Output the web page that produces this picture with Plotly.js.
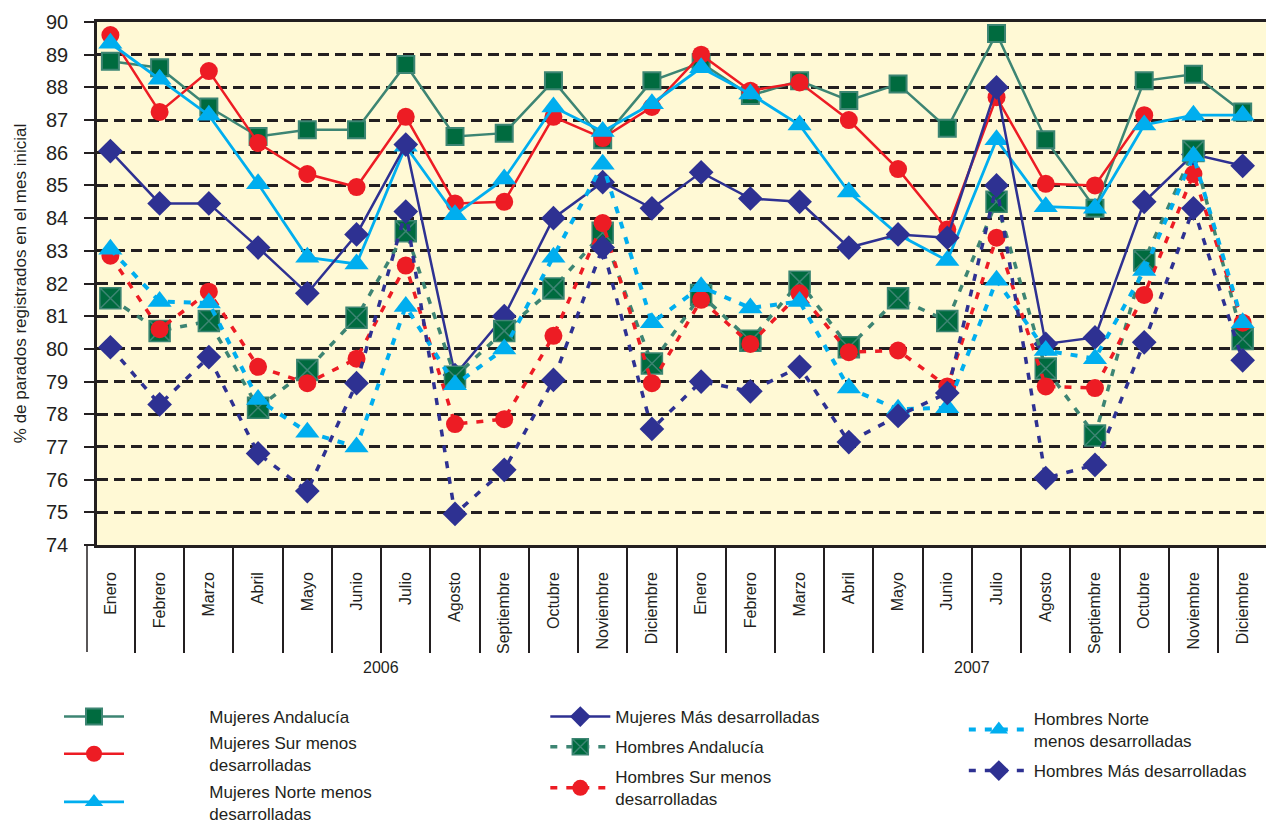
<!DOCTYPE html>
<html>
<head>
<meta charset="utf-8">
<script src="https://cdn.plot.ly/plotly-3.0.1.min.js"></script>
<style>
html,body{margin:0;padding:0;background:#ffffff;}
#chart{width:1266px;height:823px;}
</style>
</head>
<body>
<div id="chart"></div>
<script>
// ---------------- data ----------------
const years = ['2006', '2007'];
const months = ['Enero','Febrero','Marzo','Abril','Mayo','Junio','Julio','Agosto','Septiembre','Octubre','Noviembre','Diciembre'];

const mujeresAndalucia = [88.8, 88.6, 87.4, 86.5, 86.7, 86.7, 88.7, 86.5, 86.6, 88.2, 86.4, 88.2,
                          88.75, 87.75, 88.2, 87.6, 88.1, 86.75, 89.65, 86.4, 84.3, 88.2, 88.4, 87.25];
const mujeresSur = [89.6, 87.25, 88.5, 86.3, 85.35, 84.95, 87.1, 84.45, 84.5, 87.1, 86.45, 87.4,
                    89.0, 87.9, 88.15, 87.0, 85.5, 83.65, 87.7, 85.05, 85.0, 87.15, null, null];
const mujeresNorte = [89.35, 88.25, 87.15, 85.05, 82.8, 82.6, 86.2, 84.1, 85.2, 87.4, 86.65, 87.5,
                      88.6, 87.8, 86.85, 84.8, 83.5, 82.7, 86.4, 84.35, 84.3, 86.85, 87.15, 87.15];
const mujeresMas = [86.05, 84.45, 84.45, 83.1, 81.7, 83.5, 86.25, 79.2, 81.0, 84.0, 85.1, 84.3,
                    85.4, 84.6, 84.5, 83.1, 83.5, 83.4, 88.0, 80.15, 80.35, 84.5, 85.95, 85.6];
const hombresAndalucia = [81.55, 80.55, 80.85, 78.2, 79.35, 80.95, 83.6, 79.15, 80.55, 81.85, 83.55, 79.55,
                          81.65, 80.25, 82.05, 80.05, 81.55, 80.85, 84.5, 79.4, 77.35, 82.7, 86.05, 80.3];
const hombresSur = [82.85, 80.6, 81.75, 79.45, 78.95, 79.7, 82.55, 77.7, 77.85, 80.4, 83.85, 78.95,
                    81.5, 80.15, 81.7, 79.9, 79.95, 78.85, 83.4, 78.85, 78.8, 81.65, 85.35, 80.8];
const hombresNorte = [83.05, 81.45, 81.4, 78.45, 77.45, 77.0, 81.3, 78.9, 80.0, 82.8, 85.65, 80.8,
                      81.9, 81.25, 81.45, 78.8, 78.15, 78.2, 82.1, 79.95, 79.7, 82.4, 85.9, 80.8];
const hombresMas = [80.05, 78.3, 79.75, 76.8, 75.65, 78.95, 84.2, 74.95, 76.3, 79.05, 83.1, 77.55,
                    79.0, 78.7, 79.45, 77.15, 77.95, 78.65, 85.0, 76.05, 76.45, 80.2, 84.3, 79.65];

const yTicks = [74,75,76,77,78,79,80,81,82,83,84,85,86,87,88,89,90];

// ---------------- derived ----------------
const monthLabels = [];
years.forEach(() => months.forEach(m => monthLabels.push(m)));
const idx = monthLabels.map((_, i) => i);
const boundaries = idx.map(i => i + 0.5).slice(0, idx.length - 1);

const FONT = 'Liberation Sans, Arial, Helvetica, sans-serif';
const DARK = '#231f20';
const TEAL = '#3d8573';
const GREEN = '#006b3f';
const RED = '#ed1c24';
const BLUE = '#00aeef';
const NAVY = '#2e3192';
const HDASH = '7px,9px';
const PAD = '\u00a0'.repeat(17);

function tr(name, y, color, symbol, size, dash, legend, mcolor, mline, lw) {
  return {
    type: 'scatter', mode: 'lines+markers', name: name, x: idx, y: y,
    legend: legend, legendgroup: name, connectgaps: false,
    line: {color: color, width: lw, dash: dash},
    marker: {symbol: symbol, size: size, color: mcolor || color,
             line: mline || {width: 0}},
    hoverinfo: 'x+y+name'
  };
}

const traces = [
  tr(PAD + 'Mujeres Andalucía', mujeresAndalucia, TEAL, 'square', 17, 'solid', 'legend', GREEN, {color: TEAL, width: 2}, 2.5),
  tr(PAD + 'Mujeres Sur menos<br>' + PAD + 'desarrolladas', mujeresSur, RED, 'circle', 18, 'solid', 'legend', RED, null, 2.5),
  tr(PAD + 'Mujeres Norte menos<br>' + PAD + 'desarrolladas', mujeresNorte, BLUE, 'triangle-up', 21, 'solid', 'legend', BLUE, null, 2.8),
  tr('Mujeres Más desarrolladas', mujeresMas, NAVY, 'diamond', 19, 'solid', 'legend2', NAVY, null, 2.5),
  tr('Hombres Andalucía', hombresAndalucia, TEAL, 'square-x', 21, HDASH, 'legend2', GREEN, {color: TEAL, width: 1.5}, 3.5),
  tr('Hombres Sur menos<br>desarrolladas', hombresSur, RED, 'circle', 18, HDASH, 'legend2', RED, null, 3.5),
  tr('Hombres Norte<br>menos desarrolladas', hombresNorte, BLUE, 'triangle-up', 21, HDASH, 'legend3', BLUE, null, 4),
  tr('Hombres Más desarrolladas', hombresMas, NAVY, 'diamond', 19, HDASH, 'legend3', NAVY, null, 3.5),
  {type: 'scatter', x: [], y: [], xaxis: 'x2', showlegend: false, hoverinfo: 'skip'}
];

const R0 = -0.272, R1 = 23.474;

function legendCfg(x, y, gap) {
  return {
    x: x, y: y, xanchor: 'left', yanchor: 'top', orientation: 'v',
    itemwidth: 60, tracegroupgap: gap, bgcolor: 'rgba(0,0,0,0)', borderwidth: 0,
    font: {family: FONT, size: 17, color: DARK}
  };
}

const layout = {
  width: 1266, height: 823,
  margin: {l: 97, r: 0, t: 22, b: 278, pad: 0, autoexpand: false},
  paper_bgcolor: '#ffffff',
  plot_bgcolor: '#fff9d5',
  font: {family: FONT, color: DARK},
  showlegend: true,
  xaxis: {
    range: [R0, R1], tickmode: 'array', tickvals: idx, ticktext: monthLabels,
    tickangle: -90, ticks: '', ticklabelstandoff: 18,
    tickfont: {family: FONT, size: 16, color: DARK},
    showgrid: false, zeroline: false,
    showline: true, linecolor: DARK, linewidth: 2.5, mirror: true
  },
  xaxis2: {
    overlaying: 'x', anchor: 'y', side: 'bottom', range: [R0, R1],
    tickmode: 'array', tickvals: boundaries, ticks: 'outside', ticklen: 107,
    tickwidth: 1.5, tickcolor: DARK, showticklabels: false,
    showgrid: false, zeroline: false, showline: false
  },
  yaxis: {
    range: [74, 90], tickmode: 'array', tickvals: yTicks,
    ticks: 'outside', ticklen: 10, tickwidth: 1.5, tickcolor: DARK,
    ticklabelstandoff: 12,
    tickfont: {family: FONT, size: 20, color: DARK},
    showgrid: true, gridcolor: DARK, gridwidth: 2.5, griddash: '11px,6px',
    zeroline: false, showline: true, linecolor: DARK, linewidth: 2.5,
    title: {text: '% de parados registrados en el mes inicial',
            font: {family: FONT, size: 17, color: DARK}, standoff: 16}
  },
  legend: legendCfg(-0.0325, -0.2945, 1),
  legend2: legendCfg(0.3835, -0.2945, 5),
  legend3: legendCfg(0.7415, -0.298, 5),
  shapes: [
    {type: 'line', xref: 'paper', yref: 'paper', x0: -10/1169, x1: -10/1169, y0: 0, y1: -107/523,
     line: {color: DARK, width: 1.5}}
  ],
  annotations: years.map((yr, k) => ({
    text: yr, x: k * months.length + (months.length - 1) / 2, xref: 'x',
    y: -0.235, yref: 'paper', showarrow: false, xanchor: 'center', yanchor: 'middle',
    font: {family: FONT, size: 16, color: DARK}
  }))
};

Plotly.newPlot('chart', traces, layout, {displayModeBar: false, staticPlot: false});
</script>
</body>
</html>
